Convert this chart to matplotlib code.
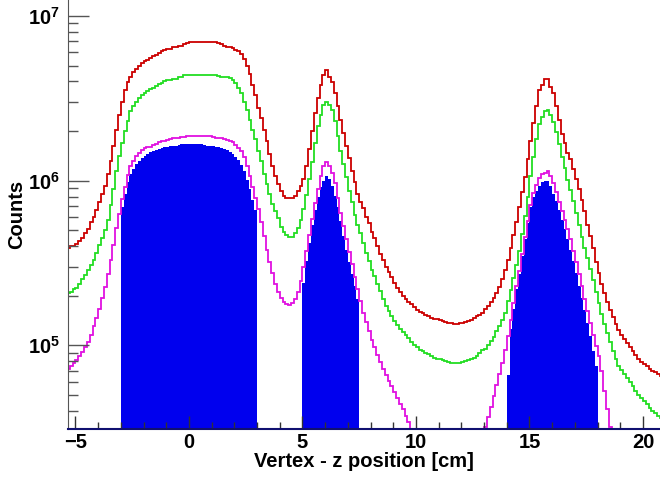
import matplotlib
matplotlib.use("Agg")
import matplotlib.pyplot as plt
from matplotlib.ticker import FixedLocator, FuncFormatter, LogLocator, MultipleLocator
import numpy as np

# histogram binning (cm)
bin_lo = -5.5
bin_width = 0.125

red = [3.9e5, 3.9e5, 4.0e5, 4.0e5, 4.1e5, 4.3e5, 4.5e5, 4.8e5, 5.1e5, 5.6e5,
       6.0e5, 6.6e5, 7.4e5, 8.3e5, 9.3e5, 1.10e6, 1.32e6, 1.62e6, 2.04e6, 2.51e6,
       3.02e6, 3.55e6, 3.98e6, 4.27e6, 4.57e6, 4.79e6, 5.0e6, 5.2e6, 5.3e6, 5.4e6,
       5.55e6, 5.7e6, 5.8e6, 5.95e6, 6.1e6, 6.17e6, 6.3e6, 6.3e6, 6.45e6, 6.45e6,
       6.6e6, 6.6e6, 6.75e6, 6.85e6, 6.9e6, 6.9e6, 6.9e6, 6.9e6, 6.9e6, 6.9e6,
       6.9e6, 6.9e6, 6.9e6, 6.9e6, 6.85e6, 6.75e6, 6.6e6, 6.5e6, 6.45e6, 6.4e6,
       6.25e6, 6.1e6, 5.9e6, 5.5e6, 5.0e6, 4.47e6, 3.8e6, 3.3e6, 2.75e6, 2.4e6,
       2.04e6, 1.74e6, 1.45e6, 1.23e6, 1.07e6, 9.5e5, 8.7e5, 8.1e5, 7.85e5, 7.8e5,
       7.8e5, 8.1e5, 8.7e5, 9.3e5, 1.02e6, 1.23e6, 1.55e6, 2.0e6, 2.57e6, 3.16e6,
       3.8e6, 4.4e6, 4.68e6, 4.27e6, 3.98e6, 3.39e6, 2.82e6, 2.34e6, 1.95e6, 1.62e6,
       1.38e6, 1.15e6, 9.8e5, 8.3e5, 7.4e5, 6.8e5, 6.0e5, 5.5e5, 4.9e5, 4.5e5,
       4.0e5, 3.6e5, 3.3e5, 3.0e5, 2.8e5, 2.6e5, 2.4e5, 2.24e5, 2.1e5, 2.0e5,
       1.9e5, 1.82e5, 1.78e5, 1.70e5, 1.64e5, 1.6e5, 1.57e5, 1.53e5, 1.5e5, 1.47e5,
       1.45e5, 1.44e5, 1.42e5, 1.40e5, 1.39e5, 1.37e5, 1.36e5, 1.35e5, 1.35e5, 1.36e5,
       1.37e5, 1.39e5, 1.40e5, 1.43e5, 1.46e5, 1.50e5, 1.53e5, 1.58e5, 1.66e5, 1.74e5,
       1.82e5, 1.93e5, 2.07e5, 2.26e5, 2.54e5, 2.88e5, 3.31e5, 3.89e5, 4.68e5, 5.62e5,
       6.92e5, 8.51e5, 1.05e6, 1.35e6, 1.74e6, 2.24e6, 2.82e6, 3.55e6, 3.8e6, 4.12e6,
       4.17e6, 3.72e6, 3.39e6, 2.82e6, 2.34e6, 1.91e6, 1.70e6, 1.48e6, 1.35e6, 1.17e6,
       1.02e6, 8.9e5, 7.6e5, 6.5e5, 5.4e5, 4.6e5, 3.9e5, 3.2e5, 2.75e5, 2.34e5,
       2.09e5, 1.84e5, 1.64e5, 1.48e5, 1.35e5, 1.24e5, 1.16e5, 1.09e5, 1.03e5, 9.7e4,
       9.2e4, 8.7e4, 8.3e4, 7.9e4, 7.7e4, 7.45e4, 7.2e4, 7.0e4, 6.85e4, 6.7e4,
       6.5e4, 6.4e4]

green = [2.04e5, 2.07e5, 2.11e5, 2.19e5, 2.24e5, 2.34e5, 2.51e5, 2.66e5, 2.85e5, 3.09e5,
         3.31e5, 3.63e5, 4.07e5, 4.47e5, 5.0e5, 5.75e5, 7.1e5, 8.9e5, 1.15e6, 1.41e6,
         1.70e6, 2.0e6, 2.29e6, 2.63e6, 2.82e6, 3.02e6, 3.16e6, 3.31e6, 3.39e6, 3.5e6,
         3.6e6, 3.67e6, 3.76e6, 3.85e6, 3.94e6, 4.0e6, 4.07e6, 4.07e6, 4.17e6, 4.17e6,
         4.27e6, 4.27e6, 4.37e6, 4.37e6, 4.37e6, 4.37e6, 4.37e6, 4.37e6, 4.37e6, 4.37e6,
         4.37e6, 4.37e6, 4.37e6, 4.37e6, 4.32e6, 4.27e6, 4.27e6, 4.27e6, 4.22e6, 4.07e6,
         3.89e6, 3.63e6, 3.39e6, 3.02e6, 2.69e6, 2.34e6, 2.04e6, 1.78e6, 1.51e6, 1.32e6,
         1.10e6, 9.5e5, 8.3e5, 7.2e5, 6.5e5, 5.9e5, 5.25e5, 4.9e5, 4.68e5, 4.57e5,
         4.57e5, 4.79e5, 5.13e5, 5.75e5, 6.76e5, 8.13e5, 1.02e6, 1.29e6, 1.70e6, 2.14e6,
         2.51e6, 2.88e6, 3.02e6, 2.88e6, 2.69e6, 2.29e6, 1.86e6, 1.51e6, 1.26e6, 1.05e6,
         8.7e5, 7.4e5, 6.2e5, 5.4e5, 4.8e5, 4.2e5, 3.63e5, 3.24e5, 2.88e5, 2.63e5,
         2.34e5, 2.14e5, 1.91e5, 1.74e5, 1.62e5, 1.50e5, 1.40e5, 1.32e5, 1.26e5, 1.20e5,
         1.15e5, 1.10e5, 1.05e5, 1.0e5, 9.8e4, 9.4e4, 9.2e4, 9.0e4, 8.8e4, 8.6e4,
         8.4e4, 8.3e4, 8.2e4, 8.1e4, 8.0e4, 7.9e4, 7.8e4, 7.8e4, 7.8e4, 7.8e4,
         7.9e4, 8.0e4, 8.1e4, 8.2e4, 8.4e4, 8.6e4, 9.0e4, 9.3e4, 9.5e4, 1.0e5,
         1.06e5, 1.13e5, 1.22e5, 1.31e5, 1.42e5, 1.58e5, 1.85e5, 2.17e5, 2.57e5, 3.09e5,
         3.76e5, 4.73e5, 6.1e5, 7.94e5, 1.07e6, 1.40e6, 1.80e6, 2.21e6, 2.45e6, 2.66e6,
         2.69e6, 2.51e6, 2.26e6, 1.97e6, 1.66e6, 1.40e6, 1.19e6, 1.01e6, 8.8e5, 7.5e5,
         6.4e5, 5.4e5, 4.57e5, 3.89e5, 3.39e5, 2.92e5, 2.48e5, 2.11e5, 1.80e5, 1.55e5,
         1.35e5, 1.19e5, 1.05e5, 9.2e4, 8.2e4, 7.5e4, 7.1e4, 6.7e4, 6.3e4, 6.0e4,
         5.65e4, 5.3e4, 5.0e4, 4.8e4, 4.57e4, 4.37e4, 4.17e4, 4.0e4, 3.86e4, 3.73e4,
         3.6e4, 3.5e4]

magenta = [7.1e4, 7.2e4, 7.45e4, 7.8e4, 8.1e4, 8.55e4, 9.05e4, 9.7e4, 1.05e5, 1.16e5,
           1.30e5, 1.47e5, 1.67e5, 1.93e5, 2.26e5, 2.69e5, 3.29e5, 4.07e5, 5.13e5, 6.31e5,
           7.7e5, 9.2e5, 1.08e6, 1.22e6, 1.32e6, 1.41e6, 1.48e6, 1.53e6, 1.57e6, 1.59e6,
           1.61e6, 1.64e6, 1.68e6, 1.71e6, 1.73e6, 1.75e6, 1.77e6, 1.79e6, 1.81e6, 1.82e6,
           1.82e6, 1.83e6, 1.85e6, 1.86e6, 1.86e6, 1.86e6, 1.86e6, 1.86e6, 1.86e6, 1.86e6,
           1.86e6, 1.86e6, 1.85e6, 1.82e6, 1.82e6, 1.81e6, 1.79e6, 1.77e6, 1.75e6, 1.71e6,
           1.65e6, 1.58e6, 1.51e6, 1.39e6, 1.22e6, 1.06e6, 9.2e5, 7.85e5, 6.7e5, 5.6e5,
           4.6e5, 3.8e5, 3.2e5, 2.74e5, 2.36e5, 2.1e5, 1.94e5, 1.83e5, 1.77e5, 1.76e5,
           1.80e5, 1.91e5, 2.12e5, 2.47e5, 3.0e5, 3.72e5, 4.68e5, 5.85e5, 7.3e5, 8.9e5,
           1.07e6, 1.23e6, 1.29e6, 1.23e6, 1.12e6, 9.7e5, 7.85e5, 6.4e5, 5.3e5, 4.4e5,
           3.69e5, 3.1e5, 2.61e5, 2.2e5, 1.85e5, 1.58e5, 1.38e5, 1.22e5, 1.08e5, 9.7e4,
           8.75e4, 7.9e4, 7.2e4, 6.6e4, 6.1e4, 5.65e4, 5.2e4, 4.8e4, 4.4e4, 4.1e4,
           3.7e4, 3.4e4, 3.1e4, 2.8e4, 2.6e4, 2.4e4, 2.2e4, 2.07e4, 1.93e4, 1.81e4,
           1.71e4, 1.62e4, 1.55e4, 1.49e4, 1.44e4, 1.40e4, 1.39e4, 1.39e4, 1.40e4, 1.44e4,
           1.49e4, 1.57e4, 1.68e4, 1.82e4, 2.0e4, 2.2e4, 2.48e4, 2.8e4, 3.18e4, 3.65e4,
           4.24e4, 4.9e4, 5.7e4, 6.7e4, 7.85e4, 9.4e4, 1.14e5, 1.42e5, 1.81e5, 2.28e5,
           2.83e5, 3.56e5, 4.54e5, 5.7e5, 7.1e5, 8.4e5, 9.4e5, 1.03e6, 1.09e6, 1.12e6,
           1.15e6, 1.06e6, 9.7e5, 8.5e5, 7.4e5, 6.5e5, 5.8e5, 5.1e5, 4.4e5, 3.76e5,
           3.2e5, 2.7e5, 2.28e5, 1.91e5, 1.61e5, 1.36e5, 1.16e5, 9.9e4, 8.55e4, 6.95e4,
           5.3e4, 4.1e4, 3.2e4, 2.6e4, 2.17e4, 1.88e4, 1.68e4, 1.51e4, 1.38e4, 1.27e4,
           1.19e4, 1.11e4, 1.05e4, 1.0e4, 9.5e3, 9.2e3, 8.9e3, 8.55e3, 8.3e3, 8.0e3,
           7.85e3, 7.7e3]

# selected vertices (filled); 0 = outside the cuts
blue = [0, 0, 0, 0, 0, 0, 0, 0, 0, 0,
        0, 0, 0, 0, 0, 0, 0, 0, 0, 0,
        # -3.0 .. 3.0 cm
        6.9e5, 8.3e5, 9.8e5, 1.10e6, 1.17e6, 1.26e6, 1.32e6, 1.38e6, 1.42e6, 1.46e6,
        1.50e6, 1.52e6, 1.54e6, 1.56e6, 1.57e6, 1.59e6, 1.61e6, 1.62e6, 1.62e6, 1.63e6,
        1.65e6, 1.66e6, 1.66e6, 1.66e6, 1.66e6, 1.66e6, 1.66e6, 1.66e6, 1.66e6, 1.65e6,
        1.63e6, 1.62e6, 1.62e6, 1.61e6, 1.59e6, 1.57e6, 1.56e6, 1.53e6, 1.50e6, 1.45e6,
        1.40e6, 1.33e6, 1.24e6, 1.14e6, 1.01e6, 8.9e5, 7.6e5, 6.6e5,
        0, 0, 0, 0, 0, 0, 0, 0, 0, 0, 0, 0, 0, 0, 0, 0,
        # 5.0 .. 7.5 cm
        2.4e5, 3.24e5, 4.17e5, 5.37e5, 6.6e5, 7.9e5, 9.1e5, 1.0e6, 1.07e6, 1.02e6,
        9.3e5, 8.1e5, 6.9e5, 5.7e5, 4.6e5, 3.8e5, 3.2e5, 2.7e5, 2.28e5, 1.9e5,
        0, 0, 0, 0, 0, 0, 0, 0, 0, 0,
        0, 0, 0, 0, 0, 0, 0, 0, 0, 0,
        0, 0, 0, 0, 0, 0, 0, 0, 0, 0,
        0, 0, 0, 0, 0, 0, 0, 0, 0, 0,
        0, 0, 0, 0, 0, 0, 0, 0, 0, 0,
        0, 0,
        # 14.0 .. 18.0 cm
        6.6e4, 1.26e5, 1.66e5, 2.19e5, 2.7e5, 3.5e5, 4.4e5, 5.5e5, 6.9e5, 7.9e5,
        8.7e5, 9.3e5, 9.8e5, 1.0e6, 1.0e6, 9.3e5, 8.3e5, 7.5e5, 6.6e5, 5.8e5,
        5.1e5, 4.4e5, 3.8e5, 3.25e5, 2.74e5, 2.3e5, 1.94e5, 1.63e5, 1.37e5, 1.14e5,
        9.2e4, 7.5e4,
        0, 0, 0, 0, 0, 0, 0, 0, 0, 0,
        0, 0, 0, 0, 0, 0, 0, 0, 0, 0,
        0, 0, 0, 0]

plt.rcParams["font.family"] = ["Liberation Sans", "DejaVu Sans"]
plt.rcParams["font.weight"] = "bold"
plt.rcParams["mathtext.fontset"] = "custom"
plt.rcParams["mathtext.rm"] = "Liberation Sans:bold"
plt.rcParams["mathtext.bf"] = "Liberation Sans:bold"

edges = bin_lo + bin_width * np.arange(len(red) + 1)
ymin, ymax = 3.1e4, 1.25e7

fig = plt.figure(figsize=(6.6, 4.79), dpi=100)
ax = fig.add_axes([68 / 660, 50 / 479, 592 / 660, 429 / 479])

# blue fill: one filled step patch per contiguous selected range
b = np.asarray(blue, dtype=float)
on = b > 0
starts = np.flatnonzero(on & ~np.r_[False, on[:-1]])
stops = np.flatnonzero(on & ~np.r_[on[1:], False]) + 1
for s, e in zip(starts, stops):
    ax.stairs(b[s:e], edges[s:e + 1], fill=True, baseline=1.0,
              color="#0000ee", lw=0)

ax.stairs(magenta, edges, baseline=None, color="#e010e0", lw=1.3)
ax.stairs(green, edges, baseline=None, color="#22dd22", lw=1.3)
ax.stairs(red, edges, baseline=None, color="#cc0000", lw=1.3)

ax.set_yscale("log")
ax.set_ylim(ymin, ymax)
ax.set_xlim(-5.33, 20.75)

for side in ("top", "right"):
    ax.spines[side].set_visible(False)
ax.spines["left"].set_color("#555555")
ax.spines["bottom"].set_color("#101070")
ax.spines["bottom"].set_linewidth(1.5)

ax.xaxis.set_major_locator(MultipleLocator(5))
ax.xaxis.set_minor_locator(MultipleLocator(1))
ax.yaxis.set_major_locator(FixedLocator([1e5, 1e6, 1e7]))
ax.yaxis.set_minor_locator(LogLocator(base=10, subs=np.arange(2, 10)))
ax.yaxis.set_major_formatter(FuncFormatter(lambda v, p: r"$10^{%d}$" % round(np.log10(v))))
ax.yaxis.set_minor_formatter(FuncFormatter(lambda v, p: ""))

ax.tick_params(axis="y", which="major", direction="in", length=15, width=1,
               color="#555555", labelsize=14.5, pad=6)
ax.tick_params(axis="y", which="minor", direction="in", length=7, width=1, color="#555555")
ax.tick_params(axis="x", which="major", direction="in", length=9.5, width=1,
               color="#333333", labelsize=14.5, pad=3)
ax.tick_params(axis="x", which="minor", direction="in", length=5, width=1, color="#333333")

ax.set_xlabel("Vertex - z position [cm]", fontsize=14.5, fontweight="bold", labelpad=0)
ax.set_ylabel("Counts", fontsize=14.5, fontweight="bold")
ax.yaxis.set_label_coords(-0.07, 0.5)

fig.savefig("out.png", dpi=100)
